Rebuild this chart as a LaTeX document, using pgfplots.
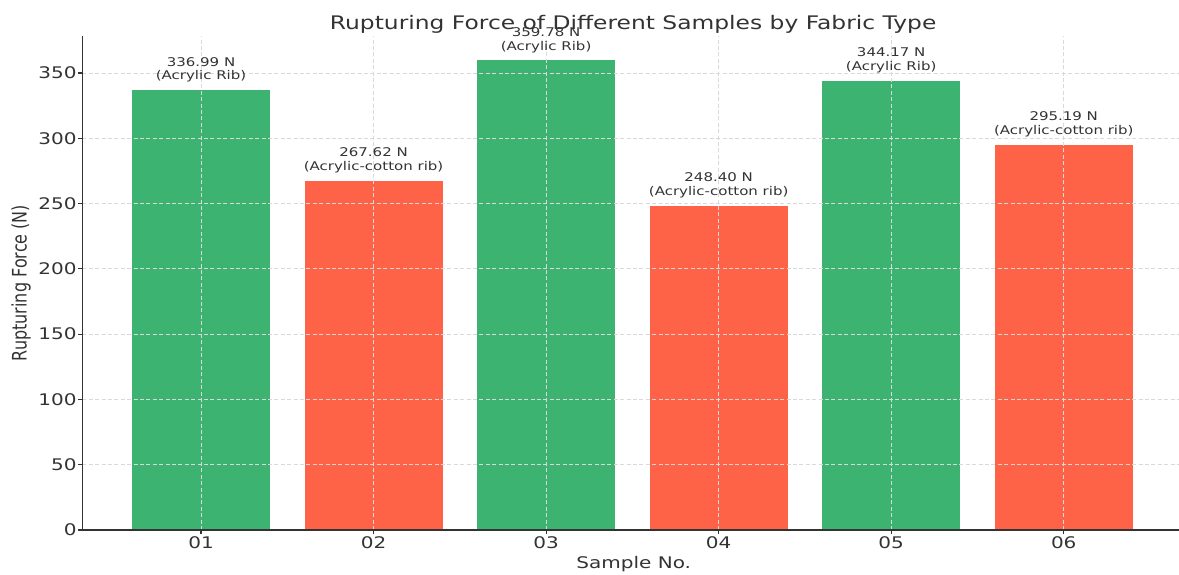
\documentclass[border=0pt]{standalone}
\usepackage{fontspec}
\setmainfont{DejaVu Sans}[FakeStretch=1.25]
\newfontfamily\ylabfont{DejaVu Sans}[FakeStretch=0.8]
\usepackage{pgfplots}
\pgfplotsset{compat=1.18}
\definecolor{accgreen}{HTML}{3CB371}
\definecolor{cotred}{HTML}{FF6347}
\definecolor{txt}{HTML}{333333}
\begin{document}
\begin{tikzpicture}
\useasboundingbox (-41.25pt,-22pt) rectangle (548.25pt,265pt);
\begin{axis}[
  at={(0,0)}, anchor=south west,
  scale only axis, width=548.25pt, height=247pt,
  xmin=-0.687, xmax=5.668, ymin=0, ymax=378.3,
  axis x line*=bottom, axis y line*=left,
  axis line style={-, black!80, line width=0.8pt},
  xtick={0,1,2,3,4,5}, xticklabels={01,02,03,04,05,06},
  ytick={0,50,...,350},
  /pgf/number format/assume math mode=true,
  tick align=outside, major tick length=2pt,
  tick style={black!80, line width=0.6pt},
  tick label style={font=\fontsize{8}{9.6}\selectfont, text=txt},
  yticklabel style={inner sep=0.8pt},
  xticklabel style={inner sep=1.35pt},
  grid=major,
  grid style={black!15, line width=0.4pt, dash pattern=on 2pt off 1.2pt},
  axis on top,
  title={Rupturing Force of Different Samples by Fabric Type},
  every axis title/.style={at={(axis description cs:0.5,1.01356)}, anchor=base, xshift=1.2pt, font=\fontsize{9.35}{11}\selectfont, text=txt},
  xlabel={Sample No.},
  xlabel style={at={(axis description cs:0.5,-0.0775)}, anchor=base, xshift=1.5pt, font=\fontsize{8}{9.6}\selectfont, text=txt},
  ylabel={Rupturing Force (N)},
  ylabel style={at={(axis description cs:-0.0509,0.5)}, anchor=base, font=\ylabfont\fontsize{10}{12}\selectfont, text=txt},
  every node near coord/.style={anchor=south, inner sep=0pt, yshift=3.6pt, align=center, font=\fontsize{6}{6.8}\selectfont, text=txt},
  every axis plot/.append style={ybar, bar width=0.8, bar shift=0pt, draw=none},
]
\addplot[fill=accgreen, nodes near coords={336.99 N\\(Acrylic Rib)}] coordinates {(0,336.99)};
\addplot[fill=cotred, nodes near coords={267.62 N\\(Acrylic-cotton rib)}] coordinates {(1,267.62)};
\addplot[fill=accgreen, nodes near coords={359.78 N\\(Acrylic Rib)}] coordinates {(2,359.78)};
\addplot[fill=cotred, nodes near coords={248.40 N\\(Acrylic-cotton rib)}] coordinates {(3,248.40)};
\addplot[fill=accgreen, nodes near coords={344.17 N\\(Acrylic Rib)}] coordinates {(4,344.17)};
\addplot[fill=cotred, nodes near coords={295.19 N\\(Acrylic-cotton rib)}] coordinates {(5,295.19)};
\end{axis}
\end{tikzpicture}
\end{document}
